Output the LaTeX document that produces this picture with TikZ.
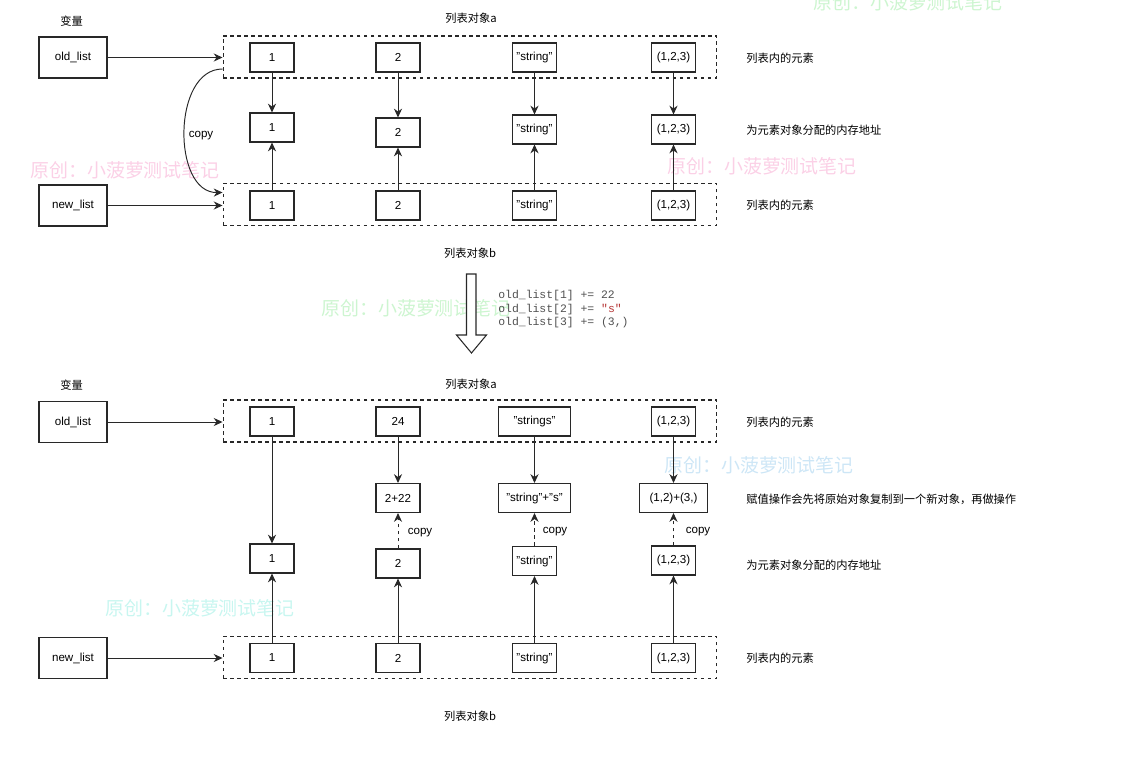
\documentclass[tikz,border=0pt]{standalone}
\usepackage{fontspec}
\setmainfont{Liberation Sans}
\setmonofont{Liberation Mono}
\newfontfamily\cjk{Noto Sans CJK SC}
\usetikzlibrary{arrows.meta,calc}
\definecolor{wmpink}{RGB}{251,208,230}
\definecolor{wmgreen}{RGB}{205,245,208}
\definecolor{wmblue}{RGB}{205,230,246}
\definecolor{wmcyan}{RGB}{200,246,240}
\definecolor{codegray}{RGB}{80,80,80}
\definecolor{codered}{RGB}{180,50,50}
\definecolor{linegray}{RGB}{40,40,40}
\begin{document}
\begin{tikzpicture}[x=0.02cm,y=-0.02cm,
 txt/.style={font=\fontsize{6.6}{8}\selectfont, inner sep=0pt},
 elbox/.style={draw=linegray, line width=0.6pt, minimum width=0.88cm, minimum height=0.58cm, inner sep=0pt, font=\fontsize{6.6}{8}\selectfont},
 varbox/.style={elbox, minimum width=1.36cm, minimum height=0.82cm},
 container/.style={draw=linegray, dash pattern=on 2pt off 2pt, line width=0.6pt, minimum width=9.88cm, minimum height=0.84cm, inner sep=0pt},
 lbl/.style={font=\cjk\fontsize{6.4}{8}\selectfont, inner sep=0pt},
 arr/.style={draw=linegray, -{Stealth[length=5pt,width=4.6pt,inset=1.6pt]}, line width=0.55pt},
 cp/.style={arr, dash pattern=on 2pt off 2pt},
 wm/.style={font=\cjk\fontsize{10.8}{12}\selectfont, inner sep=0pt},
 code/.style={font=\ttfamily\fontsize{6.5}{8}\selectfont, text=codegray, inner sep=0pt, anchor=west},
]
\useasboundingbox (0,0) rectangle (1128,760);

% watermarks
\node[wm, text=wmgreen] (w1) at (908,2) {原创：小菠萝测试笔记};
\node[wm, text=wmpink] (w2) at (125,170) {原创：小菠萝测试笔记};
\node[wm, text=wmpink] (w3) at (762,166) {原创：小菠萝测试笔记};
\node[wm, text=wmgreen] (w4) at (416,308) {原创：小菠萝测试笔记};
\node[wm, text=wmblue] (w5) at (759,465) {原创：小菠萝测试笔记};
\node[wm, text=wmcyan] (w6) at (200,608) {原创：小菠萝测试笔记};

%%%%%%%%%%%% top section
\node[lbl] (vt) at (71.5,21) {变量};
\node[lbl] (lat) at (471,18) {列表对象a};
\node[lbl] (lbt) at (470,253) {列表对象b};

\node[varbox] (ov) at (73,57.5) {old\_list};
\node[varbox] (nv) at (73,205.5) {new\_list};

\node[container] (ca) at (470,57) {};
\node[container] (cb) at (470,204.5) {};

\node[elbox] (a1) at (272,57.5) {1};
\node[elbox] (a2) at (398,57.5) {2};
\node[elbox] (a3) at (534.5,57.5) {"string"};
\node[elbox] (a4) at (673.5,57.5) {(1,2,3)};

\node[elbox] (m1) at (272,127.5) {1};
\node[elbox] (m2) at (398,132.5) {2};
\node[elbox] (m3) at (534.5,129.5) {"string"};
\node[elbox] (m4) at (673.5,129.5) {(1,2,3)};

\node[elbox] (b1) at (272,205.5) {1};
\node[elbox] (b2) at (398,205.5) {2};
\node[elbox] (b3) at (534.5,205.5) {"string"};
\node[elbox] (b4) at (673.5,205.5) {(1,2,3)};

\node[lbl, anchor=west] (t1) at (746,58) {列表内的元素};
\node[lbl, anchor=west] (t2) at (746,130) {为元素对象分配的内存地址};
\node[lbl, anchor=west] (t3) at (746,205.5) {列表内的元素};

\draw[arr] (ov.east) -- (ov.east -| ca.west);
\draw[arr] (nv.east) -- (nv.east -| cb.west);
\draw[arr] ([yshift=-0.24cm]ca.west) .. controls (172,69) and (172,193) .. ([yshift=0.24cm]cb.west);
\node[txt] (cpt) at (201,136) {copy};

\foreach \i in {1,2,3,4}{
  \draw[arr] (a\i) -- (m\i);
  \draw[arr] (b\i) -- (m\i);
}

%%%%%%%%%%%% transition
\draw[draw=linegray, line width=0.6pt, fill=white] (466.5,274) -- (476,274) -- (476,335) -- (486.5,335) -- (471.5,353) -- (456.5,335) -- (466.5,335) -- cycle;
\node[code] (k1) at (498,296) {old\_list[1] += 22};
\node[code] (k2) at (498,309.5) {old\_list[2] += \textcolor{codered}{"s"}};
\node[code] (k3) at (498,323) {old\_list[3] += (3,)};

%%%%%%%%%%%% bottom section
\node[lbl] (vb) at (71.5,385) {变量};
\node[lbl] (lab) at (471,384) {列表对象a};
\node[lbl] (lbb) at (470,716) {列表对象b};

\node[varbox] (ov2) at (73,422) {old\_list};
\node[varbox] (nv2) at (73,658) {new\_list};

\node[container] (ca2) at (470,421) {};
\node[container] (cb2) at (470,657.5) {};

\node[elbox] (c1) at (272,421.5) {1};
\node[elbox] (c2) at (398,421.5) {24};
\node[elbox, minimum width=1.45cm] (c3) at (534.5,421.5) {"strings"};
\node[elbox] (c4) at (673.5,421.5) {(1,2,3)};

\node[elbox] (r2) at (398,498) {2+22};
\node[elbox, minimum width=1.45cm] (r3) at (534.5,498) {"string"+"s"};
\node[elbox, minimum width=1.37cm] (r4) at (673.5,498) {(1,2)+(3,)};

\node[elbox] (s1) at (272,558.5) {1};
\node[elbox] (s2) at (398,563.5) {2};
\node[elbox] (s3) at (534.5,561) {"string"};
\node[elbox] (s4) at (673.5,560.5) {(1,2,3)};

\node[elbox] (d1) at (272,658) {1};
\node[elbox] (d2) at (398,658) {2};
\node[elbox] (d3) at (534.5,658) {"string"};
\node[elbox] (d4) at (673.5,658) {(1,2,3)};

\node[lbl, anchor=west] (u1) at (746,422) {列表内的元素};
\node[lbl, anchor=west] (u2) at (746,499) {赋值操作会先将原始对象复制到一个新对象，再做操作};
\node[lbl, anchor=west] (u3) at (746,565) {为元素对象分配的内存地址};
\node[lbl, anchor=west] (u4) at (746,658) {列表内的元素};

\draw[arr] (ov2.east) -- (ov2.east -| ca2.west);
\draw[arr] (nv2.east) -- (nv2.east -| cb2.west);

\draw[arr] (c1) -- (s1);
\foreach \i in {2,3,4}{
  \draw[arr] (c\i) -- (r\i);
  \draw[cp] (s\i) -- (r\i);
}
\foreach \i in {1,2,3,4}{
  \draw[arr] (d\i) -- (s\i);
}
\node[txt] (cp2) at (420,533) {copy};
\node[txt] (cp3) at (555,531.5) {copy};
\node[txt] (cp4) at (698,531.5) {copy};
\end{tikzpicture}
\end{document}
